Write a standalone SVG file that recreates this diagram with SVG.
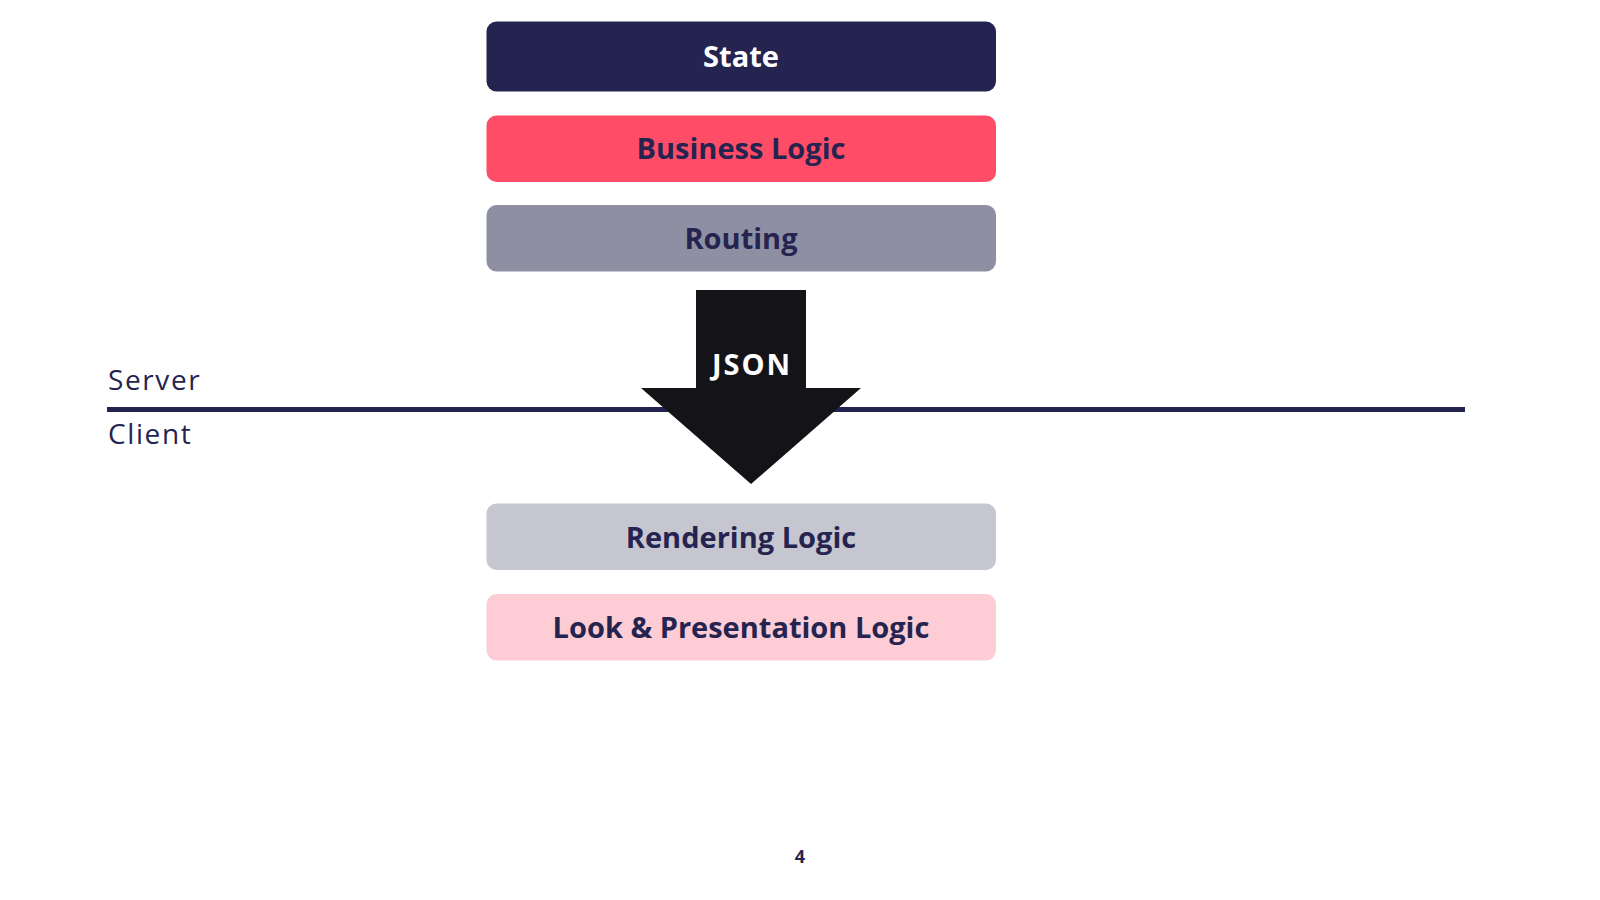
<svg xmlns="http://www.w3.org/2000/svg" width="1600" height="900" viewBox="0 0 1600 900">
<style>
.lbl{font-family:"Open Sans","Noto Sans","Liberation Sans",sans-serif;font-weight:700;font-size:29px;text-anchor:middle;fill:#252450}
.side{font-family:"Open Sans","Noto Sans","Liberation Sans",sans-serif;font-weight:400;font-size:28px;letter-spacing:1.6px;fill:#252450}
</style>
<rect width="1600" height="900" fill="#ffffff"/>
<g id="divider">
<line x1="107" y1="409.5" x2="1465" y2="409.5" stroke="#252450" stroke-width="5"/>
<text class="side" x="108" y="390">Server</text>
<text class="side" x="108" y="444">Client</text>
</g>
<g id="state"><rect x="486.5" y="21.5" width="509.5" height="70" rx="10" fill="#252450"/><text class="lbl" x="741" y="67" style="fill:#ffffff">State</text></g>
<g id="business"><rect x="486.5" y="115.5" width="509.5" height="66.5" rx="10" fill="#FF4D67"/><text class="lbl" x="741" y="159">Business Logic</text></g>
<g id="routing"><rect x="486.5" y="205" width="509.5" height="66.5" rx="10" fill="#8F8FA3"/><text class="lbl" x="741" y="249">Routing</text></g>
<g id="connectors">
<polygon points="696,290 806,290 806,388 861,388 751,484 641,388 696,388" fill="#141318"/>
<text class="lbl" x="752" y="375" style="fill:#ffffff;letter-spacing:2px">JSON</text>
</g>
<g id="rendering"><rect x="486.5" y="503.5" width="509.5" height="66.5" rx="10" fill="#C6C6D0"/><text class="lbl" x="741" y="548">Rendering Logic</text></g>
<g id="look"><rect x="486.5" y="594" width="509.5" height="66.5" rx="10" fill="#FDCCD4"/><text class="lbl" x="741" y="638">Look &amp; Presentation Logic</text></g>
<text class="lbl" x="800" y="863" style="font-size:18px">4</text>
</svg>
